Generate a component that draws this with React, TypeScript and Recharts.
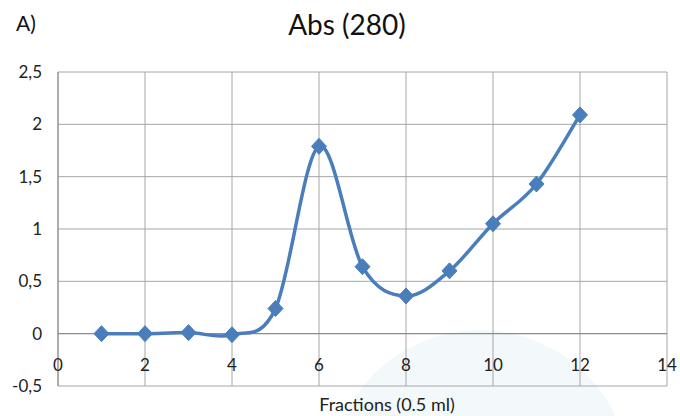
import React from 'react';
import { LineChart, Line, XAxis, YAxis, CartesianGrid, ReferenceLine } from 'recharts';

const fractions = [1, 2, 3, 4, 5, 6, 7, 8, 9, 10, 11, 12];
const absorbance = [0.0, 0.0, 0.01, -0.01, 0.24, 1.79, 0.64, 0.36, 0.6, 1.05, 1.43, 2.09];
const xTicks = [0, 2, 4, 6, 8, 10, 12, 14];
const yTicks = [-0.5, 0, 0.5, 1, 1.5, 2, 2.5];

const data = fractions.map((f, i) => ({ x: f, y: absorbance[i] }));

const FONT = "Lato, 'Open Sans', 'Noto Sans', sans-serif";
const BLUE = '#4a7ebb';

function excelSmooth(context: any) {
  let pts: number[][] = [];
  return {
    areaStart() {},
    areaEnd() {},
    lineStart() {
      pts = [];
    },
    point(x: number, y: number) {
      pts.push([+x, +y]);
    },
    lineEnd() {
      const n = pts.length;
      if (!n) return;
      context.moveTo(pts[0][0], pts[0][1]);
      for (let i = 0; i < n - 1; i++) {
        const p0 = pts[i - 1] || pts[i];
        const p1 = pts[i];
        const p2 = pts[i + 1];
        const p3 = pts[i + 2] || p2;
        context.bezierCurveTo(
          p1[0] + (p2[0] - p0[0]) / 6,
          p1[1] + (p2[1] - p0[1]) / 6,
          p2[0] - (p3[0] - p1[0]) / 6,
          p2[1] - (p3[1] - p1[1]) / 6,
          p2[0],
          p2[1]
        );
      }
    },
  };
}

const Diamond = (props: any) => {
  const { cx, cy } = props;
  if (cx == null || cy == null) return null;
  const w = 7.5, h = 8;
  return (
    <polygon
      points={`${cx},${cy - h} ${cx + w},${cy} ${cx},${cy + h} ${cx - w},${cy}`}
      fill={BLUE}
      stroke={BLUE}
      strokeWidth={1}
    />
  );
};

const XTick = (props: any) => {
  const { x, y, payload } = props;
  return (
    <text x={x} y={y - 22} textAnchor="middle" dominantBaseline="central" fontSize={17} fill="#222" fontFamily={FONT}>
      {payload.value}
    </text>
  );
};

export default function App() {
  return (
    <div style={{ position: 'absolute', left: 0, top: 0, width: 680, height: 416, background: '#fff', fontFamily: FONT }}>
      <div style={{ position: 'absolute', left: 330, top: 330, width: 300, height: 300, borderRadius: '50%', background: '#f3f8fb' }} />
      <div style={{ position: 'absolute', left: 16, top: 10, fontSize: 21, lineHeight: '26px', color: '#111' }}>A)</div>
      <div style={{ position: 'absolute', left: 0, width: 694, top: 6, textAlign: 'center', fontSize: 28, lineHeight: '36px', color: '#111' }}>Abs (280)</div>
      <div style={{ position: 'absolute', left: 0, width: 774, top: 392, textAlign: 'center', fontSize: 18, lineHeight: '24px', color: '#222' }}>Fractions (0.5 ml)</div>
      <div style={{ position: 'absolute', left: 0, top: 0 }}>
        <LineChart width={680} height={416} data={data} margin={{ top: 72, right: 13, bottom: 0, left: 8 }}>
          <CartesianGrid stroke="#a6a6a6" strokeWidth={1} />
          <XAxis
            dataKey="x"
            type="number"
            domain={[0, 14]}
            ticks={xTicks}
            height={30}
            tickSize={0}
            tickMargin={0}
            axisLine={false}
            tickLine={false}
            tick={<XTick />}
            interval={0}
          />
          <YAxis
            type="number"
            domain={[-0.5, 2.5]}
            ticks={yTicks}
            width={50}
            axisLine={{ stroke: '#868686' }}
            tickLine={false}
            tickSize={0}
            tickMargin={16}
            tick={{ fontSize: 17, fill: '#222', fontFamily: FONT }}
            tickFormatter={(v: number) => String(v).replace('.', ',')}
            interval={0}
          />
          <ReferenceLine y={0} stroke="#868686" />
          <Line
            dataKey="y"
            type={excelSmooth as any}
            stroke={BLUE}
            strokeWidth={3.5}
            dot={<Diamond />}
            activeDot={false}
            isAnimationActive={false}
          />
        </LineChart>
      </div>
    </div>
  );
}
